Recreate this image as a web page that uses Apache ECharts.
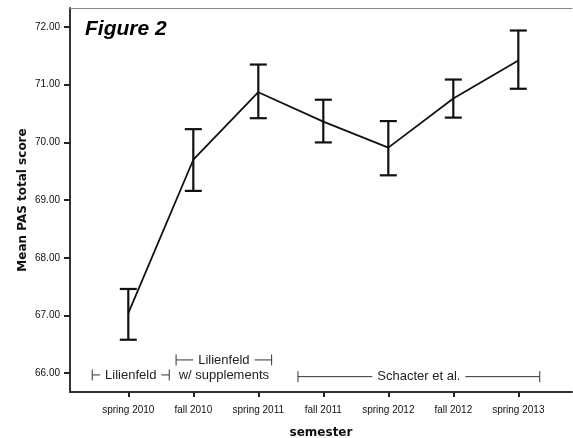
<!DOCTYPE html>
<html><head><meta charset="utf-8">
<script src="https://cdn.jsdelivr.net/npm/echarts@6/dist/echarts.min.js"></script>
<style>html,body{margin:0;padding:0;background:#fff}#c{width:573px;height:438px}</style>
</head><body><div id="c"></div>
<script>
var categories = ['spring 2010','fall 2010','spring 2011','fall 2011','spring 2012','fall 2012','spring 2013'];
var means = [67.04, 69.70, 70.87, 70.36, 69.91, 70.76, 71.42];
var lower = [66.58, 69.16, 70.42, 70.00, 69.43, 70.43, 70.93];
var upper = [67.46, 70.23, 71.35, 70.74, 70.37, 71.09, 71.94];
var yTicks = [66, 67, 68, 69, 70, 71, 72];

var bracketLabels = ['Lilienfeld', 'Lilienfeld', 'Schacter et al.'];
var bracketSubLabels = ['', 'w/ supplements', ''];
var bracketStart = [-0.555, 0.735, 2.61];
var bracketEnd = [0.63, 2.205, 6.33];
var bracketLevel = [65.97, 66.23, 65.94];

var chart = echarts.init(document.getElementById('c'), null, {renderer: 'canvas'});
var catIdx = categories.map(function(_, i){ return i; });

var lineData = means.map(function(v, i){ return [i, v]; });
var errData = means.map(function(v, i){ return [i, lower[i], upper[i]]; });
var brData = bracketLabels.map(function(t, i){ return [bracketStart[i], bracketEnd[i], bracketLevel[i], i]; });

var FONT = 'Liberation Sans, Arial, sans-serif';

var option = {
  animation: false,
  title: {
    text: 'Figure 2', left: 80, top: 14,
    textStyle: {fontFamily: FONT, fontSize: 21, fontWeight: 'bold', fontStyle: 'italic', color: '#000'}
  },
  grid: {left: 70, right: 1, top: 8, bottom: 46, containLabel: false, outerBoundsMode: 'none'},
  xAxis: [{
    type: 'value', min: -0.897, max: 6.826,
    name: 'semester', nameLocation: 'middle', nameGap: 35,
    nameTextStyle: {fontFamily: 'DejaVu Sans', fontWeight: 'bold', fontSize: 12, color: '#111'},
    axisLine: {show: true, onZero: false, lineStyle: {color: '#333', width: 2}},
    axisTick: {show: true, customValues: catIdx, length: 5, lineStyle: {color: '#222', width: 2}},
    axisLabel: {customValues: catIdx, margin: 13, fontFamily: FONT, fontSize: 10, color: '#111',
      formatter: function(v){ return categories[Math.round(v)] || ''; }},
    splitLine: {show: false}
  }, {
    type: 'value', position: 'top', min: -0.897, max: 6.826,
    axisLine: {show: true, onZero: false, lineStyle: {color: '#888', width: 1}},
    axisTick: {show: false}, axisLabel: {show: false}, splitLine: {show: false}
  }],
  yAxis: {
    type: 'value', min: 65.674, max: 72.33,
    name: 'Mean PAS total score', nameLocation: 'middle', nameGap: 41, nameMoveOverlap: false,
    nameTextStyle: {fontFamily: 'DejaVu Sans', fontWeight: 'bold', fontSize: 12, color: '#111'},
    axisLine: {show: true, onZero: false, lineStyle: {color: '#333', width: 2}},
    axisTick: {show: true, customValues: yTicks, length: 6, lineStyle: {color: '#222', width: 2}},
    axisLabel: {customValues: yTicks, margin: 10, fontFamily: FONT, fontSize: 10, color: '#111',
      formatter: function(v){ return Number(v).toFixed(2); }},
    splitLine: {show: false}
  },
  series: [{
    type: 'line', data: lineData, showSymbol: false, symbol: 'none',
    lineStyle: {color: '#111', width: 1.8}, z: 3
  }, {
    type: 'custom', data: errData, z: 4,
    renderItem: function(params, api){
      var x = api.value(0);
      var lo = api.coord([x, api.value(1)]);
      var hi = api.coord([x, api.value(2)]);
      var hw = 8.5;
      var st = {stroke: '#111', lineWidth: 2.2};
      return {type: 'group', children: [
        {type: 'line', shape: {x1: lo[0], y1: lo[1], x2: hi[0], y2: hi[1]}, style: st},
        {type: 'line', shape: {x1: lo[0]-hw, y1: lo[1], x2: lo[0]+hw, y2: lo[1]}, style: st},
        {type: 'line', shape: {x1: hi[0]-hw, y1: hi[1], x2: hi[0]+hw, y2: hi[1]}, style: st}
      ]};
    }
  }, {
    type: 'custom', data: brData, z: 5, clip: false,
    renderItem: function(params, api){
      var i = api.value(3);
      var a = api.coord([api.value(0), api.value(2)]);
      var b = api.coord([api.value(1), api.value(2)]);
      var st = {stroke: '#333', lineWidth: 1};
      var th = 5.5;
      var cx = (a[0] + b[0]) / 2;
      var ch = [
        {type: 'line', shape: {x1: a[0], y1: a[1], x2: b[0], y2: b[1]}, style: st},
        {type: 'line', shape: {x1: a[0], y1: a[1]-th, x2: a[0], y2: a[1]+th}, style: st},
        {type: 'line', shape: {x1: b[0], y1: b[1]-th, x2: b[0], y2: b[1]+th}, style: st},
        {type: 'text', x: cx, y: a[1], style: {text: bracketLabels[i], fontFamily: FONT, fontSize: 13,
          fill: '#222', align: 'center', verticalAlign: 'middle', backgroundColor: '#fff', padding: [1, 5]}}
      ];
      if (bracketSubLabels[i]) {
        ch.push({type: 'text', x: cx, y: a[1] + 15, style: {text: bracketSubLabels[i], fontFamily: FONT, fontSize: 13,
          fill: '#222', align: 'center', verticalAlign: 'middle'}});
      }
      return {type: 'group', children: ch};
    }
  }]
};
chart.setOption(option);
</script>
</body></html>
